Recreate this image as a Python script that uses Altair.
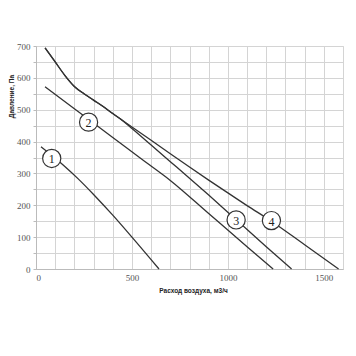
import altair as alt
import pandas as pd

# Curve data (air flow m3/h, pressure Pa)
c1_x = [26, 143, 220, 300, 400, 500, 641]
c1_y = [384, 326, 283, 234, 169, 100, 0]

c2_x = [47, 200, 400, 550, 700, 900, 1100, 1236]
c2_y = [572, 503, 413, 345, 278, 174, 70, 0]

shared_x = [47, 100, 150, 200, 250, 300, 350, 400]
shared_y = [694, 650, 608, 573, 550, 530, 510, 488]

c3_x = shared_x + [450, 500, 600, 700, 800, 900, 1043, 1200, 1332]
c3_y = shared_y + [466, 441, 389, 337, 285, 232, 155, 70, 0]

c4_x = shared_x + [450, 500, 600, 700, 800, 900, 1000, 1100, 1227, 1400, 1577]
c4_y = shared_y + [467, 446, 404, 362, 320, 279, 239, 199, 150, 76, 0]

label_names = ["1", "2", "3", "4"]
label_x = [82, 274, 1043, 1227]
label_y = [347, 461, 154, 152]

rows = []
for name, xs_, ys_ in [("1", c1_x, c1_y), ("2", c2_x, c2_y), ("3", c3_x, c3_y), ("4", c4_x, c4_y)]:
    for i, (a, b) in enumerate(zip(xs_, ys_)):
        rows.append({"curve": name, "q": a, "p": b, "order": i})
df = pd.DataFrame(rows)
lab = pd.DataFrame({"name": label_names, "q": label_x, "p": label_y})

x_vals = list(range(0, 1601, 100))
y_vals = list(range(0, 701, 50))

xs = alt.Scale(domain=[0, 1600], nice=False, zero=True)
ys = alt.Scale(domain=[0, 700], nice=False)

x_axis = alt.Axis(
    values=x_vals,
    labelExpr="datum.value % 500 == 0 ? datum.label : ''",
    title="Расход воздуха, м3/ч",
    titleFont="Liberation Sans", titleFontSize=6.5, titleFontWeight="bold", titleColor="#222",
    titleX=157, titleY=18, titleAlign="center",
    labelFont="Liberation Serif", labelFontSize=9, labelColor="#555",
    labelPadding=4, ticks=False, labelOverlap=False,
    grid=True, gridColor="#d4d4d4", gridWidth=1,
    domainColor="#bbbbbb", format="d",
)
y_axis = alt.Axis(
    values=y_vals,
    labelExpr="datum.value % 100 == 0 ? datum.label : ''",
    title="Давление, Па",
    titleFont="Liberation Sans", titleFontSize=6.5, titleFontWeight="bold", titleColor="#222",
    titleX=-25, titleY=50, titleAngle=270, titleAlign="center", titleBaseline="middle",
    labelFont="Liberation Serif", labelFontSize=9, labelColor="#555",
    labelPadding=3, tickSize=3, tickColor="#bbbbbb", labelOverlap=False,
    grid=True, gridColor="#d4d4d4", gridWidth=1,
    domainColor="#bbbbbb", format="d",
)

X = alt.X("q:Q", scale=xs, axis=x_axis)
Y = alt.Y("p:Q", scale=ys, axis=y_axis)

lines = alt.Chart(df).mark_line(color="#333333", strokeWidth=1.3, interpolate="monotone").encode(
    x=X, y=Y, detail="curve:N", order="order:Q",
)

circles = alt.Chart(lab).mark_point(
    shape="circle", filled=True, fill="white", stroke="#333333", strokeWidth=1.2, size=330, opacity=1
).encode(x=X, y=Y)

texts = alt.Chart(lab).mark_text(
    font="Liberation Serif", fontSize=12, color="#222", baseline="middle", align="center", dy=1
).encode(x=X, y=Y, text="name:N")

chart = alt.layer(lines, circles, texts).properties(
    width=307, height=223,
    autosize=alt.AutoSizeParams(type="none"),
    padding={"left": 28, "top": 38, "right": 5, "bottom": 40},
).configure_view(stroke="#d4d4d4").configure(background="white")

chart.save("out.html", embed_options={"renderer": "svg", "actions": False})
